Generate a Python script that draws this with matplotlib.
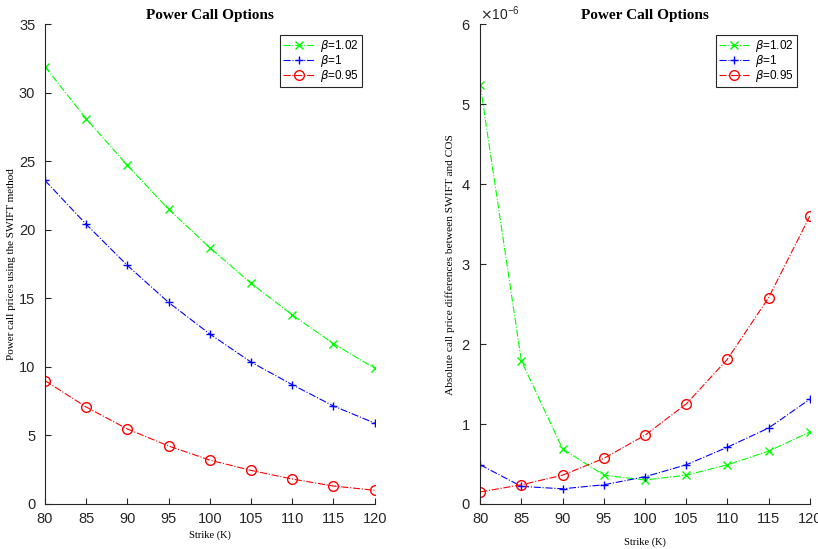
import numpy as np
import matplotlib.pyplot as plt
from matplotlib.ticker import ScalarFormatter

# strike grid
strikes = [80, 85, 90, 95, 100, 105, 110, 115, 120]
betas = ["1.02", "1", "0.95"]

# call prices from the SWIFT method
price_b102 = [31.9, 28.1, 24.7, 21.5, 18.7, 16.1, 13.8, 11.7, 9.9]
price_b100 = [23.6, 20.4, 17.4, 14.7, 12.4, 10.35, 8.7, 7.15, 5.9]
price_b095 = [9.0, 7.07, 5.47, 4.23, 3.2, 2.45, 1.82, 1.31, 1.0]

# absolute SWIFT vs COS differences (units of 1e-6)
err_b102 = [5.24, 1.79, 0.69, 0.36, 0.30, 0.36, 0.49, 0.66, 0.90]
err_b100 = [0.49, 0.22, 0.19, 0.24, 0.34, 0.49, 0.71, 0.95, 1.31]
err_b095 = [0.15, 0.24, 0.36, 0.57, 0.86, 1.25, 1.81, 2.58, 3.60]

colors = ["#00ff00", "#0000ff", "#ff0000"]
markers = ["x", "+", "o"]
serif = "Liberation Serif"
sans = "Liberation Sans"
tick_col = "#262626"

fig = plt.figure(figsize=(8.18, 5.49), dpi=100)
ax1 = fig.add_axes([0.055, 0.082, 0.403, 0.874])
ax2 = fig.add_axes([0.587, 0.082, 0.403, 0.874])


def style_axes(ax):
    for s in ("top", "right"):
        ax.spines[s].set_visible(False)
    for s in ("left", "bottom"):
        ax.spines[s].set_color(tick_col)
        ax.spines[s].set_linewidth(0.8)
    ax.tick_params(direction="in", length=4, width=0.8, colors=tick_col,
                   labelsize=10.5)
    ax.tick_params(axis="x", pad=6)
    ax.tick_params(axis="y", pad=7)
    for lab in ax.get_xticklabels() + ax.get_yticklabels():
        lab.set_family(sans)


def draw_series(ax, series):
    for vals, c, m, b in zip(series, colors, markers, betas):
        ax.plot(strikes, vals, color=c, linestyle="-.", linewidth=0.8,
                marker=m, markersize=7 if m == "o" else 6,
                markerfacecolor="none", markeredgecolor=c, markeredgewidth=1.0,
                label=r"$\beta$=" + b)
    leg = ax.legend(loc="upper right", bbox_to_anchor=(0.968, 0.982),
                    prop={"family": sans, "size": 8.5}, fancybox=False,
                    framealpha=1, borderpad=0.25, labelspacing=-0.1,
                    handlelength=2.6, handletextpad=0.5, borderaxespad=0.2)
    leg.get_frame().set_edgecolor("#262626")
    leg.get_frame().set_linewidth(0.8)


# left: prices
draw_series(ax1, [price_b102, price_b100, price_b095])
ax1.set_xlim(80, 120)
ax1.set_ylim(0, 35)
ax1.set_xticks(strikes)
ax1.set_yticks(np.arange(0, 36, 5))
style_axes(ax1)
ax1.set_title("Power Call Options", family=serif, fontweight="bold",
              fontsize=11, pad=4)
ax1.set_xlabel("Strike (K)", family=serif, fontsize=7.5, labelpad=3)
ax1.set_ylabel("Power call prices using the SWIFT method", family=serif,
               fontsize=8, labelpad=2)

# right: absolute errors
scale = 1e-6
draw_series(ax2, [np.array(err_b102) * scale, np.array(err_b100) * scale,
                  np.array(err_b095) * scale])
ax2.set_xlim(80, 120)
ax2.set_ylim(0, 6e-6)
ax2.set_xticks(strikes)
ax2.set_yticks(np.arange(0, 7) * scale)
fmt = ScalarFormatter(useMathText=True)
fmt.set_powerlimits((0, 0))
ax2.yaxis.set_major_formatter(fmt)
style_axes(ax2)
ax2.yaxis.get_offset_text().set_family(sans)
ax2.yaxis.get_offset_text().set_fontsize(10)
ax2.yaxis.get_offset_text().set_color(tick_col)
ax2.set_title("Power Call Options", family=serif, fontweight="bold",
              fontsize=11, pad=4)
ax2.set_xlabel("Strike (K)", family=serif, fontsize=7.5, labelpad=8)
ax2.set_ylabel("Absolute call price differences between SWIFT and COS",
               family=serif, fontsize=8.2, labelpad=4)

fig.savefig("out.png", dpi=100)
